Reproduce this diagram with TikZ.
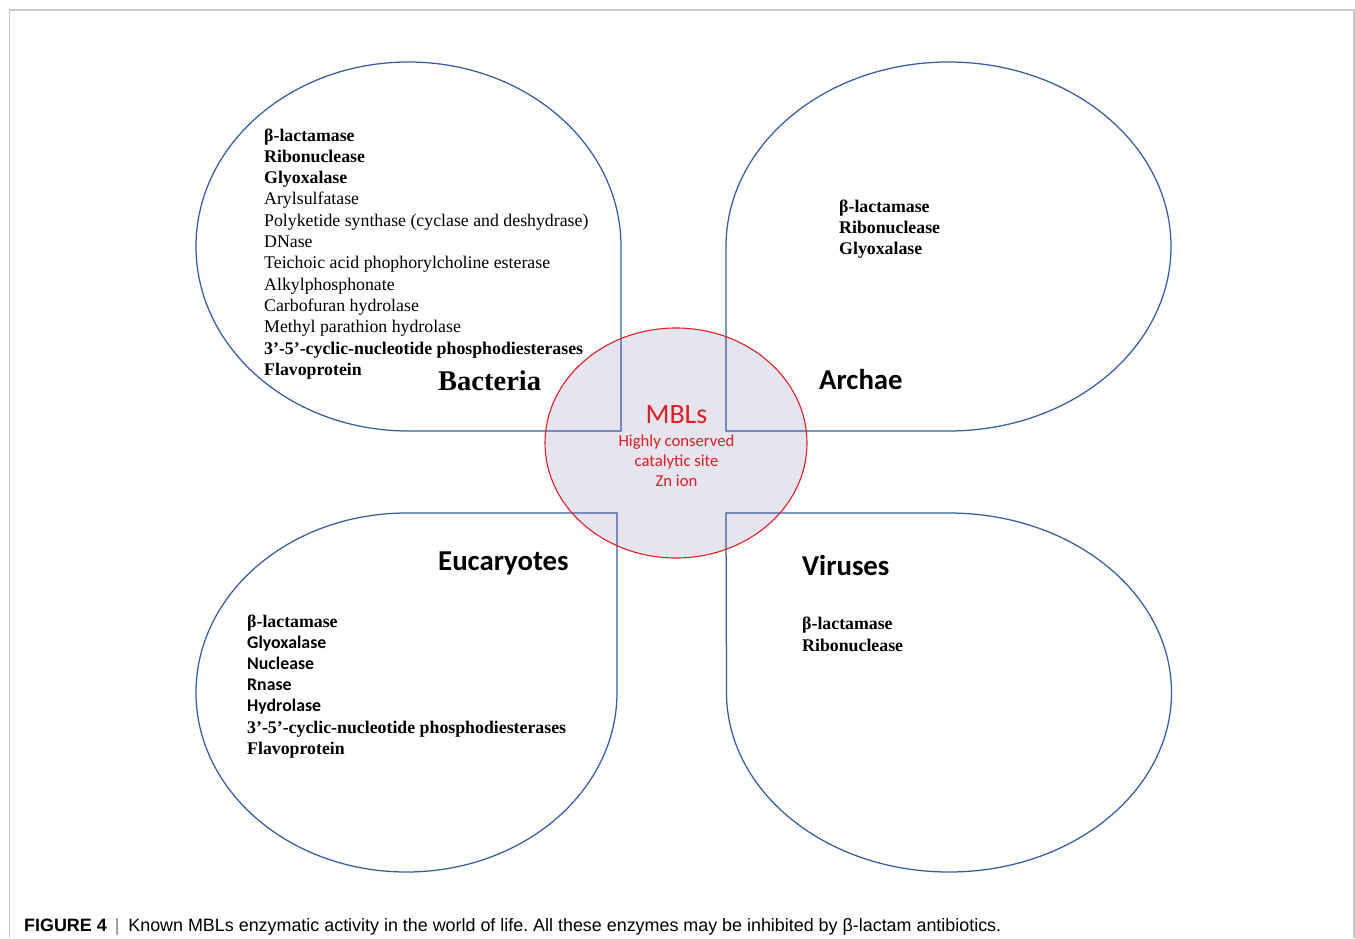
\documentclass[tikz,border=0pt]{standalone}
\usepackage{fontspec}
\setmainfont{Liberation Serif}
\newfontfamily\calibri{Carlito}
\newfontfamily\capfont{Liberation Sans}
\frenchspacing
\definecolor{blobblue}{RGB}{55,92,160}
\definecolor{mblred}{RGB}{222,30,35}
\definecolor{mblfill}{RGB}{230,228,238}
\definecolor{framegray}{RGB}{200,200,200}

\begin{document}
\begin{tikzpicture}[x=1pt, y=1pt,
    blob/.style={draw=blobblue, line width=1.25pt},
    item/.style={anchor=base west, inner sep=0pt, font=\fontsize{17.8}{21}\selectfont},
    kingdom/.style={anchor=base west, inner sep=0pt, font=\fontsize{28.8}{32}\selectfont\calibri\bfseries},
    mbl/.style={anchor=base, inner sep=0pt, text=mblred, font=\fontsize{16.7}{20}\selectfont\calibri}]
\useasboundingbox (0,0) rectangle (1355,-938);
\draw[framegray, line width=1.2pt] (9.5,-938) -- (9.5,-10) -- (1354,-10) -- (1354,-938);
\fill[mblfill] (676,-443) ellipse[x radius=131, y radius=115];
\draw[blob] (621,-431) -- (408.5,-431) arc[start angle=-90, end angle=-360, x radius=212.5, y radius=184.5] -- cycle;
\draw[blob] (726,-431) -- (726,-246.5) arc[start angle=180, end angle=-90, x radius=222.5, y radius=184.5] -- cycle;
\draw[blob] (617,-513) -- (617,-692.5) arc[start angle=0, end angle=-270, x radius=210.5, y radius=179.5] -- cycle;
\draw[blob] (726,-513) -- (949,-513) arc[start angle=90, end angle=-180, x radius=222.5, y radius=179.5] -- cycle;
\draw[mblred, line width=1.1pt] (676,-443) ellipse[x radius=131, y radius=115];

\node[item] (bac1) at (264,-141) {\textbf{β-lactamase}};
\node[item] (bac2) at ([yshift=-21.3pt]bac1.base west) {\textbf{Ribonuclease}};
\node[item] (bac3) at ([yshift=-21.3pt]bac2.base west) {\textbf{Glyoxalase}};
\node[item] (bac4) at ([yshift=-21.3pt]bac3.base west) {Arylsulfatase};
\node[item] (bac5) at ([yshift=-21.3pt]bac4.base west) {Polyketide synthase (cyclase and deshydrase)};
\node[item] (bac6) at ([yshift=-21.3pt]bac5.base west) {DNase};
\node[item] (bac7) at ([yshift=-21.3pt]bac6.base west) {Teichoic acid phophorylcholine esterase};
\node[item] (bac8) at ([yshift=-21.3pt]bac7.base west) {Alkylphosphonate};
\node[item] (bac9) at ([yshift=-21.3pt]bac8.base west) {Carbofuran hydrolase};
\node[item] (bac10) at ([yshift=-21.3pt]bac9.base west) {Methyl parathion hydrolase};
\node[item] (bac11) at ([yshift=-21.3pt]bac10.base west) {\textbf{3’-5’-cyclic-nucleotide phosphodiesterases}};
\node[item] (bac12) at ([yshift=-21.3pt]bac11.base west) {\textbf{Flavoprotein}};
\node[anchor=base west, inner sep=0pt, font=\fontsize{28.5}{32}\selectfont\bfseries] (bacteria) at (438,-390) {Bacteria};

\node[item] (arc1) at (839,-212) {\textbf{β-lactamase}};
\node[item] (arc2) at ([yshift=-21pt]arc1.base west) {\textbf{Ribonuclease}};
\node[item] (arc3) at ([yshift=-21pt]arc2.base west) {\textbf{Glyoxalase}};
\node[kingdom] (archae) at (819,-389.5) {Archae};

\node[kingdom] (eucaryotes) at (438,-570) {Eucaryotes};
\node[item] (euc1) at (247,-627.5) {\textbf{β-lactamase}};
\node[item] (euc2) at ([yshift=-21.1pt]euc1.base west) {\calibri\bfseries Glyoxalase};
\node[item] (euc3) at ([yshift=-21.1pt]euc2.base west) {\calibri\bfseries Nuclease};
\node[item] (euc4) at ([yshift=-21.1pt]euc3.base west) {\calibri\bfseries Rnase};
\node[item] (euc5) at ([yshift=-21.1pt]euc4.base west) {\calibri\bfseries Hydrolase};
\node[item] (euc6) at ([yshift=-21.1pt]euc5.base west) {\textbf{3’-5’-cyclic-nucleotide phosphodiesterases}};
\node[item] (euc7) at ([yshift=-21.1pt]euc6.base west) {\textbf{Flavoprotein}};

\node[kingdom] (viruses) at (802,-575) {Viruses};
\node[item] (vir1) at (802,-629) {\textbf{β-lactamase}};
\node[item] (vir2) at ([yshift=-22pt]vir1.base west) {\textbf{Ribonuclease}};

\node[mbl, font=\fontsize{28}{32}\selectfont\calibri] (mbls) at (676.5,-423.3) {MBLs};
\node[mbl] (mbl1) at (676.5,-446.7) {Highly conserved};
\node[mbl] (mbl2) at (676.5,-466.7) {catalytic site};
\node[mbl] (mbl3) at (676.5,-486) {Zn ion};

\node[anchor=base west, inner sep=0pt, font=\fontsize{17.9}{20}\selectfont\capfont] (caption) at (24,-931.7)
    {\textbf{FIGURE 4}\hspace{8pt}{\color{gray}|}\hspace{9pt}Known MBLs enzymatic activity in the world of life. All these enzymes may be inhibited by β-lactam antibiotics.};
\end{tikzpicture}
\end{document}
